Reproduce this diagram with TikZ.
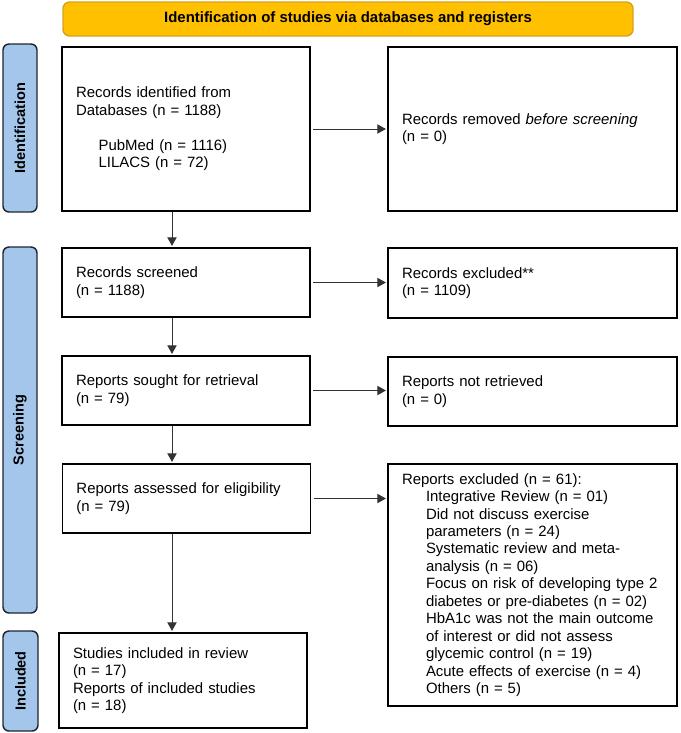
\documentclass[tikz,border=0pt]{standalone}
\usepackage{fontspec}
\setmainfont{Liberation Sans}
\usetikzlibrary{arrows.meta}
\definecolor{bannerfill}{HTML}{FFC000}
\definecolor{bannerline}{HTML}{D9A21B}
\definecolor{sidefill}{HTML}{A4C6EA}
\definecolor{sideline}{HTML}{1E2530}
\definecolor{arrline}{HTML}{333333}
\begin{document}
\begin{tikzpicture}[x=0.75pt,y=-0.75pt,
  box/.style={draw=black, line width=1.1pt, fill=white, rectangle, inner xsep=10.5pt, inner ysep=0pt, align=left, font=\fontsize{11.2pt}{13.1pt}\selectfont},
  leftbox/.style={box, minimum width=186pt, text width=165pt},
  rightbox/.style={box, minimum width=216.75pt, text width=195.75pt},
  side/.style={draw=sideline, fill=sidefill, line width=1.1pt, rounded corners=4.5pt, rotate=90, inner sep=0pt, font=\bfseries\fontsize{10.9pt}{13pt}\selectfont, minimum height=25.5pt},
  banner/.style={draw=bannerline, fill=bannerfill, line width=1.1pt, rounded corners=5pt, minimum width=427.5pt, minimum height=25.5pt, inner sep=0pt, font=\bfseries\fontsize{11.2pt}{13pt}\selectfont},
  arr/.style={draw=arrline, line width=0.75pt, -{Triangle[length=6.5pt,width=7pt]}, shorten >=1pt}
]
\useasboundingbox (0,0) rectangle (681,733);

\node[banner] (banner) at (348,19) {Identification of studies via databases and registers};

\node[side, minimum width=126pt] (sid) at (20,128) {Identification};
\node[side, minimum width=274.5pt] (ssc) at (20,430) {Screening};
\node[side, minimum width=75pt, minimum height=26.25pt] (sin) at (20.5,681) {Included};

\node[leftbox, minimum height=123pt] (b1) at (186,129) {Records identified from\\Databases (n = 1188)\\[13.1pt]\hspace*{17pt}PubMed (n = 1116)\\\hspace*{17pt}LILACS (n = 72)};
\node[rightbox, minimum height=123pt] (b2) at (532.5,129) {Records removed \textit{before screening}\\(n = 0)};

\node[leftbox, minimum height=51.75pt] (b3) at (186,282.5) {Records screened\\(n = 1188)};
\node[rightbox, minimum height=52.5pt] (b4) at (532.5,283) {Records excluded**\\(n = 1109)};

\node[leftbox, minimum height=51.75pt] (b5) at (186,390.5) {Reports sought for retrieval\\(n = 79)};
\node[rightbox, minimum height=51.75pt] (b6) at (532.5,391.5) {Reports not retrieved\\(n = 0)};

\node[leftbox, minimum height=51.75pt] (b7) at (186.5,498.5) {Reports assessed for eligibility\\(n = 79)};
\node[rightbox, minimum height=181.5pt] (b8) at (532.5,585) {Reports excluded (n = 61):\\
\hspace*{18pt}Integrative Review (n = 01)\\
\hspace*{18pt}Did not discuss exercise\\
\hspace*{18pt}parameters (n = 24)\\
\hspace*{18pt}Systematic review and meta-\\
\hspace*{18pt}analysis (n = 06)\\
\hspace*{18pt}Focus on risk of developing type 2\\
\hspace*{18pt}diabetes or pre-diabetes (n = 02)\\
\hspace*{18pt}HbA1c was not the main outcome\\
\hspace*{18pt}of interest or did not assess\\
\hspace*{18pt}glycemic control (n = 19)\\
\hspace*{18pt}Acute effects of exercise (n = 4)\\
\hspace*{18pt}Others (n = 5)};

\node[leftbox, minimum height=71.25pt] (b9) at (183,680.5) {Studies included in review\\(n = 17)\\Reports of included studies\\(n = 18)};

\coordinate (col) at (172,0);
\draw[arr] (b1.south -| col) -- (b3.north -| col);
\draw[arr] (b3.south -| col) -- (b5.north -| col);
\draw[arr] (b5.south -| col) -- (b7.north -| col);
\draw[arr] (b7.south -| col) -- (b9.north -| col);

\draw[arr, shorten <=2pt] (b1.east) -- (b1.east -| b2.west);
\draw[arr, shorten <=2pt] (b3.east) -- (b3.east -| b4.west);
\draw[arr, shorten <=2pt] (b5.east) -- (b5.east -| b6.west);
\draw[arr, shorten <=2pt] (b7.east) -- (b7.east -| b8.west);
\end{tikzpicture}
\end{document}
